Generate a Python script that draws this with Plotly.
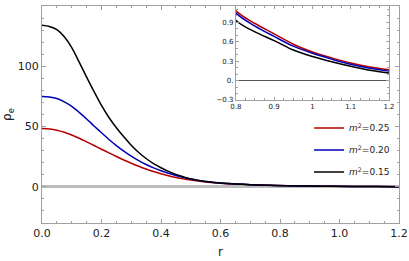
import plotly.graph_objects as go

r = [0.0, 0.025, 0.05, 0.075, 0.1, 0.125, 0.15, 0.175, 0.2, 0.225, 0.25, 0.275,
     0.3, 0.325, 0.35, 0.375, 0.4, 0.425, 0.45, 0.475, 0.5, 0.55, 0.6,
     0.65, 0.7, 0.75, 0.8, 0.85, 0.9, 0.95, 1.0, 1.05, 1.1, 1.15, 1.2]

rho_m025 = [48.4, 48.0, 47.0, 45.3, 43.0, 40.3, 37.3, 34.3, 31.2, 28.2, 25.2, 22.3,
            19.6, 17.1, 14.8, 12.7, 10.8, 9.2, 7.8, 6.6, 5.6, 4.1, 3.0,
            2.35, 1.8, 1.45, 1.075, 0.88, 0.72, 0.56, 0.44, 0.35, 0.27, 0.21, 0.165]
rho_m020 = [75.0, 74.6, 73.3, 70.5, 66.8, 61.8, 56.3, 50.5, 44.8, 39.3, 34.2, 29.6,
            25.4, 21.7, 18.5, 15.7, 13.3, 11.2, 9.4, 7.8, 6.5, 4.4, 3.1,
            2.35, 1.8, 1.4, 1.04, 0.84, 0.68, 0.53, 0.42, 0.33, 0.25, 0.19, 0.145]
rho_m015 = [134.0, 133.0, 130.5, 124.5, 115.5, 103.5, 91.0, 79.0, 67.5, 57.5, 49.0, 41.5,
            34.5, 28.5, 23.5, 19.2, 15.8, 12.8, 10.3, 8.3, 6.6, 4.5, 3.2,
            2.35, 1.8, 1.4, 0.93, 0.75, 0.615, 0.47, 0.37, 0.29, 0.22, 0.16, 0.115]

series = [("<i>m</i><sup>2</sup>=0.25", rho_m025, "#b40000"),
          ("<i>m</i><sup>2</sup>=0.20", rho_m020, "#0000b4"),
          ("<i>m</i><sup>2</sup>=0.15", rho_m015, "#000000")]

main_xticks = [0, 0.2, 0.4, 0.6, 0.8, 1.0, 1.2]
main_xlabels = ["0.0", "0.2", "0.4", "0.6", "0.8", "1.0", "1.2"]
main_yticks = [0, 50, 100, 150]
inset_xticks = [0.8, 0.9, 1.0, 1.1, 1.2]
inset_xlabels = ["0.8", "0.9", "1", "1.1", "1.2"]
inset_yticks = [-0.3, 0.0, 0.3, 0.6, 0.9]
inset_ylabels = ["\u22120.3", "0.", "0.3", "0.6", "0.9"]

fig = go.Figure()
for i, (name, vals, col) in enumerate(series):
    fig.add_trace(go.Scatter(x=r, y=vals, mode="lines", name=name, legendgroup=str(i),
                             line=dict(color=col, width=1.5, shape="spline", smoothing=0.8),
                             xaxis="x", yaxis="y"))
for name, vals, col in series:
    fig.add_trace(go.Scatter(x=r, y=vals, mode="lines", name=name, showlegend=False,
                             line=dict(color=col, width=1.5, shape="spline"),
                             xaxis="x2", yaxis="y2"))

GRAY = "#a0a0a0"
FONT = "DejaVu Sans"

fig.update_layout(
    width=409, height=261,
    margin=dict(l=42, r=10, t=6, b=38),
    paper_bgcolor="white", plot_bgcolor="white",
    showlegend=True,
    legend=dict(x=0.989, y=0.505, xanchor="right", yanchor="top",
                bgcolor="rgba(0,0,0,0)", itemwidth=30, traceorder="grouped",
                font=dict(family=FONT, size=9, color="#222"),
                tracegroupgap=3),
    xaxis=dict(range=[0, 1.2], tickvals=main_xticks, ticktext=main_xlabels,
               minor=dict(dtick=0.05, ticks="inside", ticklen=2, tickcolor=GRAY),
               zeroline=False, automargin=False,
               showgrid=False, showline=True, linecolor=GRAY, mirror="allticks",
               ticks="inside", ticklen=4, tickcolor=GRAY,
               tickfont=dict(family=FONT, size=11, color="#222"),
               title=dict(text="r", font=dict(family=FONT, size=12, color="#222"),
                          standoff=8)),
    yaxis=dict(range=[-30, 150], tickvals=main_yticks,
               minor=dict(dtick=10, ticks="inside", ticklen=2, tickcolor=GRAY),
               zeroline=True, zerolinecolor="#bdbdbd", zerolinewidth=2.5,
               automargin=False,
               showgrid=False, showline=True, linecolor=GRAY, mirror="allticks",
               ticks="inside", ticklen=4, tickcolor=GRAY,
               tickfont=dict(family=FONT, size=11, color="#222"),
               title=dict(text="\u03c1<sub>e</sub>",
                          font=dict(family=FONT, size=12, color="#222"),
                          standoff=6)),
    xaxis2=dict(domain=[0.543, 0.972], anchor="y2", range=[0.8, 1.2],
                tickvals=inset_xticks, ticktext=inset_xlabels,
                minor=dict(dtick=0.025, ticks="inside", ticklen=2, tickcolor=GRAY),
                zeroline=False, showline=True, linecolor=GRAY, mirror="allticks",
                ticks="inside", ticklen=3, tickcolor=GRAY, showgrid=False,
                automargin=False,
                tickfont=dict(family=FONT, size=7, color="#222")),
    yaxis2=dict(domain=[0.567, 1.0], anchor="x2", range=[-0.3, 1.15],
                tickvals=inset_yticks, ticktext=inset_ylabels,
                minor=dict(dtick=0.1, ticks="inside", ticklen=2, tickcolor=GRAY),
                zeroline=True, zerolinecolor="#555555", zerolinewidth=1,
                showline=True, linecolor=GRAY, mirror="allticks",
                ticks="inside", ticklen=3, tickcolor=GRAY, showgrid=False,
                automargin=False,
                tickfont=dict(family=FONT, size=7, color="#222")),
)

fig.write_html("out.html", config={"displayModeBar": False},
               post_script="document.body.style.margin='0';document.body.style.padding='0';")
